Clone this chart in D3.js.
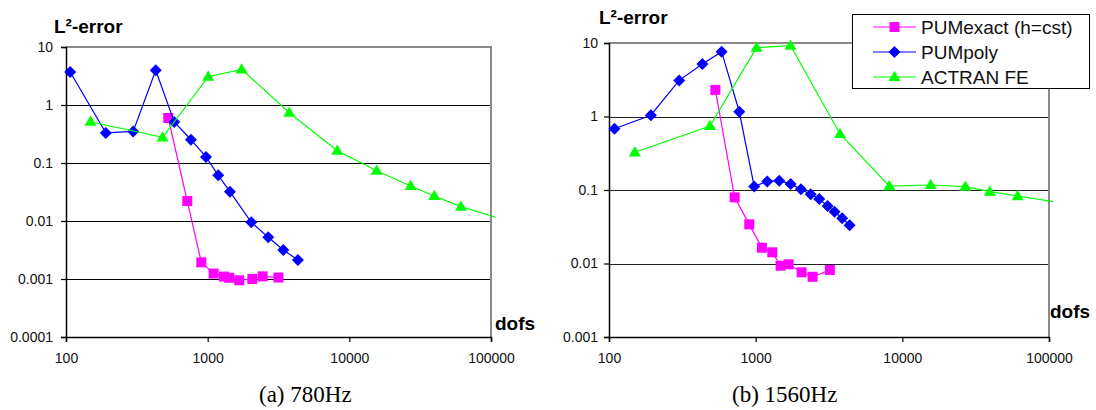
<!DOCTYPE html>
<html>
<head>
<meta charset="utf-8">
<script src="https://cdn.jsdelivr.net/npm/d3@7"></script>
<style>
  html, body { margin: 0; padding: 0; background: #fff; }
  svg { display: block; font-family: "Liberation Sans", Arial, sans-serif; }
</style>
</head>
<body>
<svg id="chart" width="1096" height="410"></svg>
<script>
// ---- Data: L2 error versus number of degrees of freedom ----
const seriesNames = ["PUMexact (h=cst)", "PUMpoly", "ACTRAN FE"];
const seriesColors = ["#ff00ff", "#0000ff", "#00ff00"];

// 780 Hz
const dofsExact780 = [527, 718, 902, 1102, 1302, 1420, 1671, 2066, 2445, 3160];
const errExact780  = [0.597, 0.0221, 0.00194, 0.00124, 0.0011, 0.00105, 0.00095, 0.001, 0.00111, 0.00106];
const dofsPoly780  = [107, 191, 298, 430, 581, 762, 973, 1188, 1436, 2033, 2678, 3421, 4335];
const errPoly780   = [3.7, 0.33, 0.35, 3.96, 0.51, 0.252, 0.127, 0.0614, 0.032, 0.0095, 0.00523, 0.00316, 0.00213];
const dofsFE780    = [149, 481, 1009, 1738, 3770, 8220, 15600, 27100, 39800, 61400, 108000];
const errFE780     = [0.515, 0.277, 3.08, 4.12, 0.736, 0.163, 0.0736, 0.0401, 0.027, 0.0177, 0.0116];

// 1560 Hz
const dofsExact1560 = [531, 719, 904, 1103, 1298, 1480, 1679, 2057, 2444, 3206];
const errExact1560  = [2.3, 0.0794, 0.0341, 0.0164, 0.0142, 0.00933, 0.00975, 0.00759, 0.0066, 0.00817];
const dofsPoly1560  = [109, 193, 301, 433, 586, 773, 977, 1199, 1448, 1731, 2035, 2371, 2713, 3093, 3450, 3890, 4370];
const errPoly1560   = [0.682, 1.04, 3.1, 5.18, 7.62, 1.16, 0.112, 0.131, 0.134, 0.121, 0.102, 0.0873, 0.0755, 0.0605, 0.0507, 0.0412, 0.0331];
const dofsFE1560    = [150, 488, 1014, 1730, 3760, 8150, 15600, 26900, 39500, 61100, 107000];
const errFE1560     = [0.326, 0.743, 8.63, 9.19, 0.578, 0.113, 0.117, 0.111, 0.0948, 0.0828, 0.0693];

// Axis ticks
const xTicks = [100, 1000, 10000, 100000];
const xTickLabels = ["100", "1000", "10000", "100000"];
const yTicks780 = [0.0001, 0.001, 0.01, 0.1, 1, 10];
const yTickLabels780 = ["0.0001", "0.001", "0.01", "0.1", "1", "10"];
const yTicks1560 = [0.001, 0.01, 0.1, 1, 10];
const yTickLabels1560 = ["0.001", "0.01", "0.1", "1", "10"];

const captions = ["(a) 780Hz", "(b) 1560Hz"];
const yTitle = "L²-error";
const xTitle = "dofs";

const svg = d3.select("#chart");

function zip(xs, ys) { return xs.map((x, i) => ({ x: x, y: ys[i] })); }

// square, 45°-rotated square, and upright triangle markers
const squareMarker = { draw(ctx, size) { const r = Math.sqrt(size) / 2; ctx.rect(-r, -r, 2 * r, 2 * r); } };
const diamondMarker = { draw(ctx, size) { const r = Math.sqrt(size / 2); ctx.moveTo(0, -r); ctx.lineTo(r, 0); ctx.lineTo(0, r); ctx.lineTo(-r, 0); ctx.closePath(); } };
const triangleMarker = { draw(ctx, size) { const w = Math.sqrt(size * 2 / 0.85); const h = w * 0.85; ctx.moveTo(0, -h * 0.6); ctx.lineTo(w / 2, h * 0.4); ctx.lineTo(-w / 2, h * 0.4); ctx.closePath(); } };
const symbols = [squareMarker, diamondMarker, triangleMarker];
const symbolSizes = [100, 72, 62];

function drawPanel(p) {
  const g = svg.append("g");
  const x = d3.scaleLog().domain([100, 100000]).range([p.left, p.right]);
  const y = d3.scaleLog().domain([p.yTicks[0], p.yTicks[p.yTicks.length - 1]]).range([p.bottom, p.top]);

  // horizontal gridlines at inner decades
  g.append("g").selectAll("line")
    .data(p.yTicks.slice(1, -1))
    .join("line")
    .attr("x1", p.left).attr("x2", p.right)
    .attr("y1", d => Math.round(y(d)) + 0.5).attr("y2", d => Math.round(y(d)) + 0.5)
    .attr("stroke", p.gridColor).attr("stroke-width", 1);

  // top and right frame
  g.append("path")
    .attr("d", `M${p.left},${p.top} H${p.right} V${p.bottom}`)
    .attr("fill", "none").attr("stroke", "#8a8a8a").attr("stroke-width", 2);

  // axes
  const yAxis = d3.axisLeft(y).tickValues(p.yTicks)
    .tickFormat((d, i) => p.yLabels[i]).tickSize(5).tickPadding(p.yPad);
  const gy = g.append("g").attr("transform", `translate(${p.left},0)`).call(yAxis);
  const xAxis = d3.axisBottom(x).tickValues(xTicks)
    .tickFormat((d, i) => xTickLabels[i]).tickSize(5).tickPadding(11);
  const gx = g.append("g").attr("transform", `translate(0,${p.bottom})`).call(xAxis);
  [gx, gy].forEach(a => {
    a.selectAll("path.domain").attr("stroke", "#000").attr("stroke-width", 1.5);
    a.selectAll(".tick line").attr("stroke", "#000").attr("stroke-width", 1.2);
    a.selectAll(".tick text").attr("fill", "#111").style("font-size", "14px")
      .style("font-family", '"Liberation Sans", Arial, sans-serif');
  });

  // series lines then markers
  const line = d3.line().x(d => x(d.x)).y(d => y(d.y));
  p.series.forEach((s, i) => {
    const pts = zip(s[0], s[1]);
    g.append("path").datum(pts)
      .attr("d", line).attr("fill", "none")
      .attr("stroke", seriesColors[i]).attr("stroke-width", 1.2);
    g.append("g").selectAll("path")
      .data(pts.filter(d => d.x <= 100000))
      .join("path")
      .attr("transform", d => `translate(${x(d.x)},${y(d.y)})`)
      .attr("d", d3.symbol().type(symbols[i]).size(symbolSizes[i]))
      .attr("fill", seriesColors[i]);
  });

  // titles and caption
  g.append("text").attr("x", p.yTitleX).attr("y", p.yTitleY)
    .attr("font-weight", "bold").attr("font-size", 19).text(yTitle);
  g.append("text").attr("x", p.xTitleX).attr("y", p.xTitleY)
    .attr("font-weight", "bold").attr("font-size", 19).text(xTitle);
  g.append("text").attr("x", p.capX).attr("y", 402)
    .attr("font-family", '"Liberation Serif", "Times New Roman", serif')
    .attr("font-size", 23).attr("fill", "#000").text(p.caption);
}

drawPanel({
  left: 66, right: 491, top: 47, bottom: 337,
  yTicks: yTicks780, yLabels: yTickLabels780, yPad: 8, gridColor: "#000",
  series: [[dofsExact780, errExact780], [dofsPoly780, errPoly780], [dofsFE780, errFE780]],
  yTitleX: 54, yTitleY: 33, xTitleX: 495, xTitleY: 330,
  caption: captions[0], capX: 259
});

drawPanel({
  left: 609, right: 1049, top: 43, bottom: 337,
  yTicks: yTicks1560, yLabels: yTickLabels1560, yPad: 6, gridColor: "#222",
  series: [[dofsExact1560, errExact1560], [dofsPoly1560, errPoly1560], [dofsFE1560, errFE1560]],
  yTitleX: 599, yTitleY: 24, xTitleX: 1050, xTitleY: 318,
  caption: captions[1], capX: 732
});

// legend
const lg = svg.append("g");
lg.append("rect").attr("x", 852.5).attr("y", 14.5).attr("width", 237).attr("height", 74)
  .attr("fill", "#fff").attr("stroke", "#000").attr("stroke-width", 1);
seriesNames.forEach((name, i) => {
  const cy = 27 + i * 25;
  lg.append("line").attr("x1", 873).attr("x2", 916).attr("y1", cy).attr("y2", cy)
    .attr("stroke", seriesColors[i]).attr("stroke-width", 1.2);
  lg.append("path").attr("transform", `translate(894.5,${cy})`)
    .attr("d", d3.symbol().type(symbols[i]).size(symbolSizes[i]))
    .attr("fill", seriesColors[i]);
  lg.append("text").attr("x", 921).attr("y", cy + 6.5)
    .attr("font-size", 19).attr("fill", "#111").text(name);
});
</script>
</body>
</html>
